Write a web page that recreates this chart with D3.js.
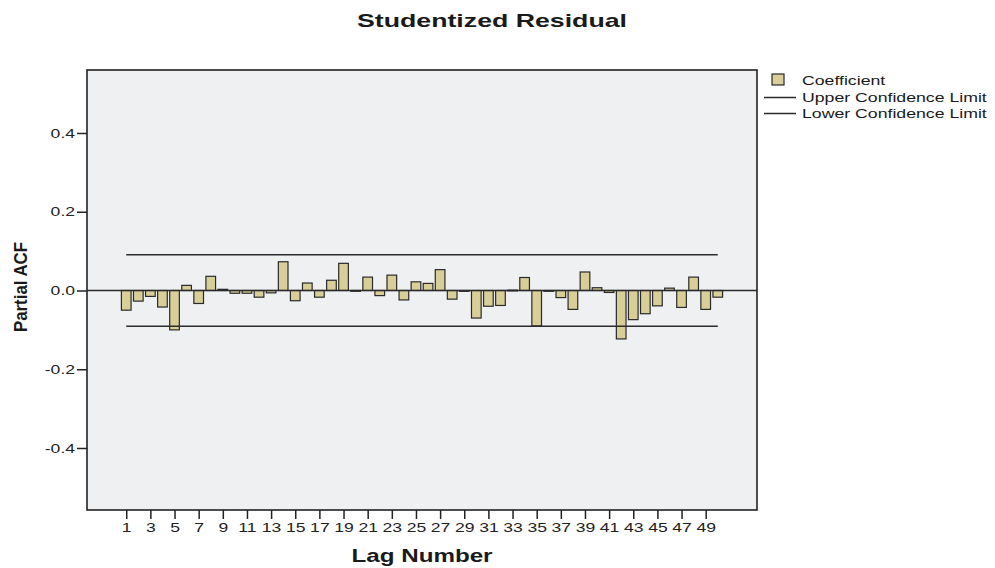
<!DOCTYPE html>
<html>
<head>
<meta charset="utf-8">
<script src="https://cdn.jsdelivr.net/npm/d3@7/dist/d3.min.js"></script>
<style>
  html, body { margin: 0; padding: 0; background: #ffffff; }
  svg { display: block; font-family: "Liberation Sans", Arial, sans-serif; }
</style>
</head>
<body>
<svg id="chart" width="995" height="568"></svg>
<script>
// Partial autocorrelation of the studentized residuals, lags 1-50
const lags = d3.range(1, 51);
const pacf = [
  -0.050, -0.027, -0.015, -0.042, -0.100,  0.013, -0.033,  0.036,  0.003, -0.007,
  -0.007, -0.017, -0.006,  0.073, -0.026,  0.019, -0.017,  0.026,  0.069, -0.002,
   0.034, -0.013,  0.039, -0.024,  0.022,  0.018,  0.053, -0.022, -0.002, -0.070,
  -0.040, -0.038,  0.001,  0.033, -0.090,  0.000, -0.018, -0.048,  0.047,  0.007,
  -0.005, -0.123, -0.074, -0.059, -0.039,  0.006, -0.043,  0.034, -0.048, -0.017
];
const upperLimit = 0.091;
const lowerLimit = -0.091;
const yTicks = [0.4, 0.2, 0.0, -0.2, -0.4];
const xTicks = d3.range(1, 50, 2);

const svg = d3.select("#chart");
const plot = { left: 87, right: 757, top: 70, bottom: 510 };

const x = d3.scaleLinear().domain([-2.25, 53.25]).range([plot.left, plot.right]);
const y = d3.scaleLinear().domain([-0.5575, 0.56]).range([plot.bottom, plot.top]);
const barW = (x(2) - x(1)) * 0.8;

// widen glyphs horizontally for the stretched label style
function stretch(sel, k) {
  sel.each(function () {
    const w = this.getComputedTextLength();
    d3.select(this).attr("textLength", w * k).attr("lengthAdjust", "spacingAndGlyphs");
  });
}

// plot background
svg.append("rect")
  .attr("x", plot.left).attr("y", plot.top)
  .attr("width", plot.right - plot.left).attr("height", plot.bottom - plot.top)
  .attr("fill", "#eff0f2");

// bars
svg.append("g").selectAll("rect")
  .data(lags)
  .join("rect")
  .attr("x", (d) => x(d) - barW / 2)
  .attr("y", (d, i) => y(Math.max(0, pacf[i])))
  .attr("width", barW)
  .attr("height", (d, i) => Math.max(0.8, Math.abs(y(pacf[i]) - y(0))))
  .attr("fill", "#d8cf98")
  .attr("stroke", "#2a2a2a")
  .attr("stroke-width", 1.2);

// zero reference line
svg.append("line")
  .attr("x1", plot.left).attr("x2", plot.right)
  .attr("y1", y(0)).attr("y2", y(0))
  .attr("stroke", "#2a2a2a").attr("stroke-width", 1.5);

// confidence limits
[upperLimit, lowerLimit].forEach((v) => {
  svg.append("line")
    .attr("x1", x(lags[0])).attr("x2", x(lags[lags.length - 1]))
    .attr("y1", y(v)).attr("y2", y(v))
    .attr("stroke", "#2a2a2a").attr("stroke-width", 1.5);
});

// frame
svg.append("rect")
  .attr("x", plot.left).attr("y", plot.top)
  .attr("width", plot.right - plot.left).attr("height", plot.bottom - plot.top)
  .attr("fill", "none").attr("stroke", "#222").attr("stroke-width", 1.6);

// axes
const yAxis = d3.axisLeft(y).tickValues(yTicks).tickSize(10).tickPadding(2)
  .tickFormat((d) => d.toFixed(1));
const gy = svg.append("g").attr("transform", `translate(${plot.left},0)`).call(yAxis);
gy.select(".domain").remove();
gy.selectAll(".tick line").attr("stroke", "#222").attr("stroke-width", 1.5);
gy.selectAll(".tick text").attr("font-size", 13).attr("fill", "#222").call(stretch, 1.35);

const xAxis = d3.axisBottom(x).tickValues(xTicks).tickSize(9).tickPadding(4)
  .tickFormat(d3.format("d"));
const gx = svg.append("g").attr("transform", `translate(0,${plot.bottom})`).call(xAxis);
gx.select(".domain").remove();
gx.selectAll(".tick line").attr("stroke", "#222").attr("stroke-width", 1.5);
gx.selectAll(".tick text").attr("font-size", 13).attr("fill", "#222").call(stretch, 1.35);

// titles
svg.append("text")
  .attr("x", 492).attr("y", 27)
  .attr("text-anchor", "middle")
  .attr("font-size", 18.5).attr("font-weight", "bold").attr("fill", "#1a1a1a")
  .attr("textLength", 270).attr("lengthAdjust", "spacingAndGlyphs")
  .text("Studentized Residual");

svg.append("text")
  .attr("x", 422).attr("y", 562)
  .attr("text-anchor", "middle")
  .attr("font-size", 18.5).attr("font-weight", "bold").attr("fill", "#1a1a1a")
  .attr("textLength", 141).attr("lengthAdjust", "spacingAndGlyphs")
  .text("Lag Number");

svg.append("text")
  .attr("transform", "translate(27,287) rotate(-90)")
  .attr("text-anchor", "middle")
  .attr("font-size", 18).attr("font-weight", "bold").attr("fill", "#1a1a1a")
  .attr("textLength", 90).attr("lengthAdjust", "spacingAndGlyphs")
  .text("Partial ACF");

// legend
const legend = svg.append("g").attr("font-size", 13).attr("fill", "#1a1a1a");
legend.append("rect")
  .attr("x", 772).attr("y", 74).attr("width", 12).attr("height", 11)
  .attr("fill", "#d8cf98").attr("stroke", "#2a2a2a").attr("stroke-width", 1.2);
legend.append("text").attr("x", 802).attr("y", 85).text("Coefficient");
[["Upper Confidence Limit", 97.5], ["Lower Confidence Limit", 113.5]].forEach(([label, ly]) => {
  legend.append("line")
    .attr("x1", 764).attr("x2", 796).attr("y1", ly).attr("y2", ly)
    .attr("stroke", "#2a2a2a").attr("stroke-width", 1.5);
  legend.append("text").attr("x", 802).attr("y", ly + 4.5).text(label);
});
legend.selectAll("text").call(stretch, 1.36);
</script>
</body>
</html>
